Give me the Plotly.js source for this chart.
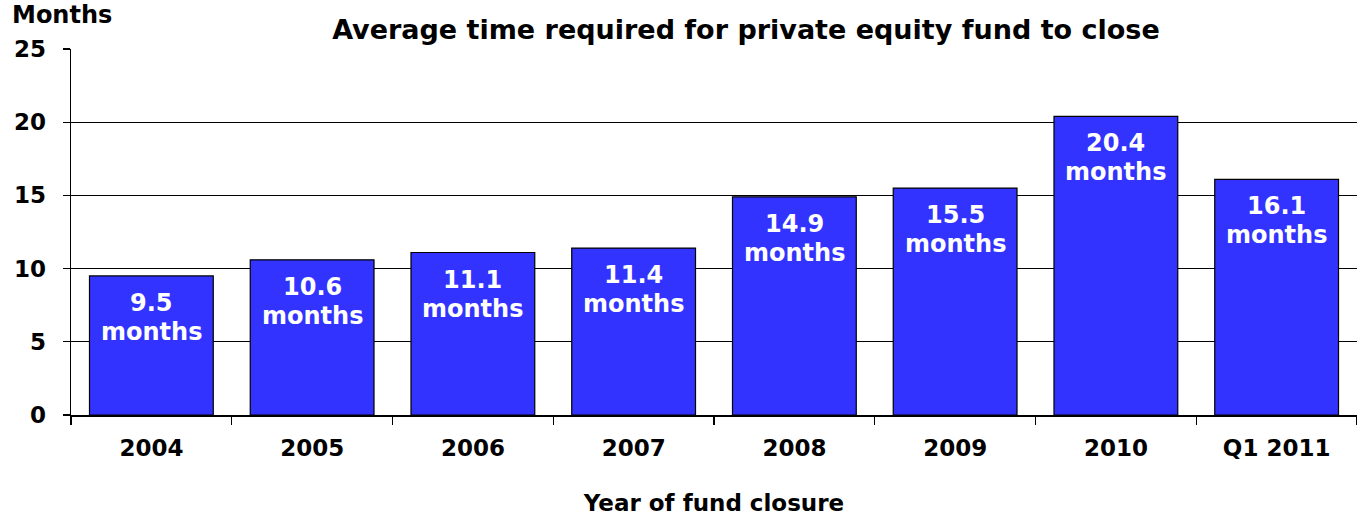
<!DOCTYPE html>
<html>
<head>
<meta charset="utf-8">
<script src="https://cdn.plot.ly/plotly-3.0.1.min.js"></script>
<style>html,body{margin:0;padding:0;background:#fff;}#chart{width:1357px;height:516px;}</style>
</head>
<body>
<div id="chart"></div>
<script>
const categories = ["2004", "2005", "2006", "2007", "2008", "2009", "2010", "Q1 2011"];
const months = [9.5, 10.6, 11.1, 11.4, 14.9, 15.5, 20.4, 16.1];
const yTicks = [0, 5, 10, 15, 20, 25];
const unitLabel = "months";

const FONT = "DejaVu Sans";
const labelFont = { family: FONT, size: 24, color: "#ffffff", weight: "bold" };

const trace = {
  type: "bar",
  x: categories,
  y: months,
  marker: { color: "#3333FF", line: { color: "#000000", width: 1.2 } },
  hoverinfo: "x+y"
};

const valueLabels = categories.map((c, i) => ({
  x: i, y: months[i], xref: "x", yref: "y",
  text: months[i].toFixed(1),
  showarrow: false, yanchor: "top", yshift: -11,
  font: labelFont
}));
const unitLabels = categories.map((c, i) => ({
  x: i, y: months[i], xref: "x", yref: "y",
  text: unitLabel,
  showarrow: false, yanchor: "top", yshift: -40,
  font: labelFont
}));

const layout = {
  width: 1357,
  height: 516,
  margin: { l: 71, r: 0, t: 49, b: 101, pad: 0 },
  paper_bgcolor: "#ffffff",
  plot_bgcolor: "#ffffff",
  bargap: 0.23,
  showlegend: false,
  font: { family: FONT, color: "#000000" },
  title: {
    text: "Average time required for private equity fund to close",
    font: { family: FONT, size: 27, color: "#000000", weight: "bold" },
    xref: "container",
    x: 0.5497,
    xanchor: "center",
    yref: "container",
    y: 0.943,
    yanchor: "middle"
  },
  xaxis: {
    type: "category",
    categoryorder: "array",
    categoryarray: categories,
    range: [-0.5, categories.length - 0.5],
    autorange: false,
    showgrid: false,
    showline: true,
    linecolor: "#000000",
    linewidth: 1.5,
    ticks: "outside",
    tickson: "boundaries",
    ticklen: 8,
    tickwidth: 1.2,
    tickcolor: "#000000",
    ticklabelstandoff: 12,
    tickangle: 0,
    tickfont: { family: FONT, size: 23, color: "#000000", weight: "bold" },
    title: {
      text: "Year of fund closure",
      font: { family: FONT, size: 23, color: "#000000", weight: "bold" },
      standoff: 36
    },
    automargin: false,
    fixedrange: true
  },
  yaxis: {
    range: [0, 25],
    autorange: false,
    tickvals: yTicks,
    ticktext: yTicks.map(String),
    showgrid: true,
    gridcolor: "#000000",
    gridwidth: 1.2,
    zeroline: false,
    showline: true,
    linecolor: "#000000",
    linewidth: 1.5,
    ticks: "outside",
    ticklen: 7,
    tickwidth: 1.2,
    tickcolor: "#000000",
    ticklabelstandoff: 12,
    tickfont: { family: FONT, size: 23, color: "#000000", weight: "bold" },
    automargin: false,
    fixedrange: true
  },
  annotations: valueLabels.concat(unitLabels, [{
    text: "Months",
    xref: "paper",
    yref: "paper",
    x: -0.0474,
    xanchor: "left",
    y: 1.0916,
    yanchor: "middle",
    showarrow: false,
    font: { family: FONT, size: 24, color: "#000000", weight: "bold" }
  }])
};

Plotly.newPlot("chart", [trace], layout, { displayModeBar: false, staticPlot: true });
</script>
</body>
</html>
